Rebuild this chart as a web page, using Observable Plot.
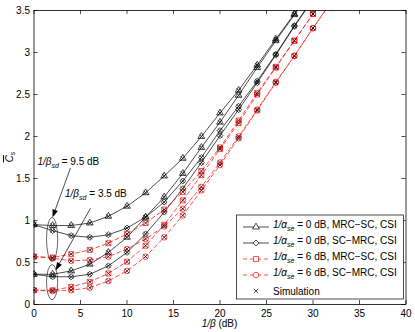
<!DOCTYPE html>
<html><head><meta charset="utf-8">
<script src="https://cdn.jsdelivr.net/npm/d3@7"></script>
<script src="https://cdn.jsdelivr.net/npm/@observablehq/plot@0.6"></script>
<style>
body{margin:0;background:#fff;}
#chart{width:415px;height:332px;}
svg{font-family:"Liberation Sans",Arial,Helvetica,sans-serif;}
</style></head><body><div id="chart"></div>
<script>
// x axis: 1/β (dB)
const snr = [0,2,4,6,8,10,12,14,16,18,20,22,24,26,28,30,32];
// 1/α_se = 0 dB, MRC–SC (triangles)
const mrcSc0_bsd95 = [0.95,0.94,0.94,0.97,1.05,1.17,1.33,1.53,1.74,2.00,2.28,2.55,2.85,3.16,3.46,3.77,4.08];
const mrcSc0_bsd35 = [0.36,0.36,0.40,0.48,0.62,0.80,1.04,1.28,1.56,1.87,2.17,2.49,2.82,3.14,3.45,3.76,4.07];
// 1/α_se = 0 dB, SC–MRC (diamonds)
const scMrc0_bsd95 = [0.95,0.88,0.82,0.80,0.83,0.91,1.04,1.22,1.47,1.75,2.07,2.36,2.66,2.98,3.32,3.64,3.96];
const scMrc0_bsd35 = [0.36,0.33,0.33,0.36,0.46,0.62,0.84,1.10,1.38,1.69,2.01,2.32,2.64,2.97,3.31,3.63,3.95];
// 1/α_se = 6 dB, MRC–SC (squares)
const mrcSc6_bsd95 = [0.57,0.56,0.60,0.65,0.73,0.84,0.97,1.13,1.34,1.59,1.87,2.19,2.52,2.83,3.14,3.46,3.78];
const mrcSc6_bsd35 = [0.17,0.17,0.21,0.27,0.37,0.51,0.70,0.95,1.24,1.54,1.85,2.16,2.50,2.82,3.14,3.46,3.78];
// 1/α_se = 6 dB, SC–MRC (circles)
const scMrc6_bsd95 = [0.57,0.55,0.52,0.53,0.57,0.66,0.78,0.93,1.14,1.40,1.69,2.00,2.32,2.65,2.96,3.29,3.61];
const scMrc6_bsd35 = [0.17,0.16,0.17,0.20,0.28,0.40,0.57,0.80,1.06,1.36,1.66,1.98,2.31,2.64,2.96,3.29,3.61];

const xTicks = [0,5,10,15,20,25,30,35,40];
const yTicks = [0,0.5,1,1.5,2,2.5,3,3.5];

const legendLabels = [
  {num:"0 dB, MRC\u2212SC, CSI"},
  {num:"0 dB, SC\u2212MRC, CSI"},
  {num:"6 dB, MRC\u2212SC, CSI"},
  {num:"6 dB, SC\u2212MRC, CSI"}
];

const series = [
  {key:"t95", vals:mrcSc0_bsd95, symbol:"triangle", color:"#000", dash:null, r:2.5},
  {key:"t35", vals:mrcSc0_bsd35, symbol:"triangle", color:"#000", dash:null, r:2.5},
  {key:"d95", vals:scMrc0_bsd95, symbol:"diamond2", color:"#000", dash:null, r:2.7},
  {key:"d35", vals:scMrc0_bsd35, symbol:"diamond2", color:"#000", dash:null, r:2.7},
  {key:"s95", vals:mrcSc6_bsd95, symbol:"square", color:"#ff0000", dash:"4,3", r:2.8},
  {key:"s35", vals:mrcSc6_bsd35, symbol:"square", color:"#ff0000", dash:"4,3", r:2.8},
  {key:"c95", vals:scMrc6_bsd95, symbol:"circle", color:"#ff0000", dash:"4,3", r:2.8},
  {key:"c35", vals:scMrc6_bsd35, symbol:"circle", color:"#ff0000", dash:"4,3", r:2.8}
];

const W = 415, H = 332, mL = 33.5, mR = 9.5, mT = 10, mB = 28;
const fw = W - mL - mR, fh = H - mT - mB, tk = 4;

const marks = [];
for (const s of series) {
  const rows = snr.map((x,i)=>({x, y:s.vals[i]}));
  marks.push(Plot.line(rows, {x:"x", y:"y", stroke:s.color, strokeWidth:0.7, strokeDasharray:s.dash, clip:true}));
}
for (const s of series) {
  const rows = snr.map((x,i)=>({x, y:s.vals[i]})).filter(d=>d.y<=3.5);
  marks.push(Plot.dot(rows, {x:"x", y:"y", symbol:()=>s.symbol, r:s.r, stroke:s.color, strokeWidth:0.7, fill:"none", clip:true}));
  marks.push(Plot.dot(rows, {x:"x", y:"y", symbol:()=>"times", r:2.1, stroke:"#000", strokeWidth:0.7, clip:true}));
}

const plot = Plot.plot({
  width:W, height:H, marginLeft:mL, marginRight:mR, marginTop:mT, marginBottom:mB,
  style:{fontFamily:"Liberation Sans, Arial, sans-serif", fontSize:"10px", color:"#000", background:"#fff"},
  x:{domain:[0,40]},
  y:{domain:[0,3.5]},
  symbol:{type:"identity"},
  marks:[
    Plot.tickX(xTicks, {x:d=>d, insetTop:fh-tk, stroke:"#000", strokeWidth:0.7}),
    Plot.tickX(xTicks, {x:d=>d, insetBottom:fh-tk, stroke:"#000", strokeWidth:0.7}),
    Plot.tickY(yTicks, {y:d=>d, insetRight:fw-tk, stroke:"#000", strokeWidth:0.7}),
    Plot.tickY(yTicks, {y:d=>d, insetLeft:fw-tk, stroke:"#000", strokeWidth:0.7}),
    Plot.axisX({ticks:xTicks, tickSize:0, tickPadding:5, tickFormat:d=>String(d), label:null, fontSize:10}),
    Plot.axisY({ticks:yTicks, tickSize:0, tickPadding:4, tickFormat:d=>String(d), label:null, fontSize:10}),
    ...marks,
    Plot.frame({stroke:"#000", strokeWidth:0.8})
  ]
});
document.getElementById("chart").appendChild(plot);

const svg = d3.select(plot);
const xs = plot.scale("x"), ys = plot.scale("y");
const X = v => xs.apply(v), Y = v => ys.apply(v);

// annotation anchors (data units)
const ellipses = [{cx:2, cy:0.77, rx:0.6, ry:0.26}, {cx:2, cy:0.26, rx:0.6, ry:0.21}];
const arrows = [{x1:3.98, y1:1.62, x2:2.04, y2:1.03}, {x1:6.13, y1:1.14, x2:2.37, y2:0.40}];
const notes = [{x:0.43, y:1.655, val:"9.5 dB"}, {x:3.39, y:1.274, val:"3.5 dB"}];

const ann = svg.append("g").attr("text-anchor","start");
for (const e of ellipses) {
  ann.append("ellipse").attr("cx",X(e.cx)).attr("cy",Y(e.cy))
    .attr("rx",X(e.cx+e.rx)-X(e.cx)).attr("ry",Y(e.cy-e.ry)-Y(e.cy))
    .attr("fill","none").attr("stroke","#000").attr("stroke-width",0.6);
}
for (const a of arrows) {
  const x1=X(a.x1), y1=Y(a.y1), x2=X(a.x2), y2=Y(a.y2);
  const ang=Math.atan2(y2-y1,x2-x1), L=8, Wd=2.8;
  const bx=x2-L*Math.cos(ang), by=y2-L*Math.sin(ang);
  ann.append("line").attr("x1",x1).attr("y1",y1).attr("x2",bx).attr("y2",by)
    .attr("stroke","#000").attr("stroke-width",0.7);
  const px=-Math.sin(ang)*Wd, py=Math.cos(ang)*Wd;
  ann.append("path").attr("d",`M${x2},${y2}L${bx+px},${by+py}L${bx-px},${by-py}Z`).attr("fill","#000");
}
for (const n of notes) {
  const t = ann.append("text").attr("x",X(n.x)).attr("y",Y(n.y)).attr("font-size",10).attr("fill","#000").attr("text-anchor","start");
  t.append("tspan").attr("font-style","italic").text("1/\u03B2");
  t.append("tspan").attr("font-style","italic").attr("font-size",7).attr("dy",3).text("sd");
  t.append("tspan").attr("dy",-3).text(" = " + n.val);
}

// axis titles
const yl = svg.append("text").attr("transform",`translate(13,157) rotate(-90)`).attr("text-anchor","middle").attr("font-size",10);
yl.append("tspan").attr("font-style","italic").style("text-decoration","overline").text("C");
yl.append("tspan").attr("font-style","italic").attr("font-size",7).attr("dy",2).text("s");
const xl = svg.append("text").attr("x",X(20)).attr("y",327).attr("text-anchor","middle").attr("font-size",10);
xl.append("tspan").attr("font-style","italic").text("1/\u03B2");
xl.append("tspan").text(" (dB)");

// legend
const lg = svg.append("g").attr("text-anchor","start");
const bx0=236.5, by0=215, bw=167, bh=84;
lg.append("rect").attr("x",bx0).attr("y",by0).attr("width",bw).attr("height",bh)
  .attr("fill","#fff").attr("stroke","#000").attr("stroke-width",0.7);
const legSeries = [series[0], series[2], series[4], series[6]];
const rowY = [227,243,259,275,291];
legSeries.forEach((s,i)=>{
  const y=rowY[i];
  lg.append("line").attr("x1",243).attr("x2",269).attr("y1",y).attr("y2",y)
    .attr("stroke",s.color).attr("stroke-width",0.7).attr("stroke-dasharray",s.dash);
  lg.append("path").attr("transform",`translate(256,${y})`)
    .attr("d", d3.symbol(s.symbol==="triangle"?d3.symbolTriangle:s.symbol==="diamond2"?d3.symbolDiamond2:s.symbol==="square"?d3.symbolSquare:d3.symbolCircle, Math.PI*s.r*s.r)())
    .attr("fill","#fff").attr("stroke",s.color).attr("stroke-width",0.7);
  const t=lg.append("text").attr("x",273).attr("y",y+1).attr("font-size",10).attr("text-anchor","start");
  t.append("tspan").attr("font-style","italic").text("1/\u03B1");
  t.append("tspan").attr("font-style","italic").attr("font-size",7).attr("dy",3).text("se");
  t.append("tspan").attr("dy",-3).text(" = " + legendLabels[i].num);
});
lg.append("path").attr("transform",`translate(256,${rowY[4]})`)
  .attr("d", d3.symbol(d3.symbolTimes, Math.PI*2.1*2.1)()).attr("fill","none").attr("stroke","#000").attr("stroke-width",0.7);
lg.append("text").attr("x",273).attr("y",rowY[4]+3.5).attr("font-size",10).attr("text-anchor","start").text("Simulation");
</script>
</body></html>
